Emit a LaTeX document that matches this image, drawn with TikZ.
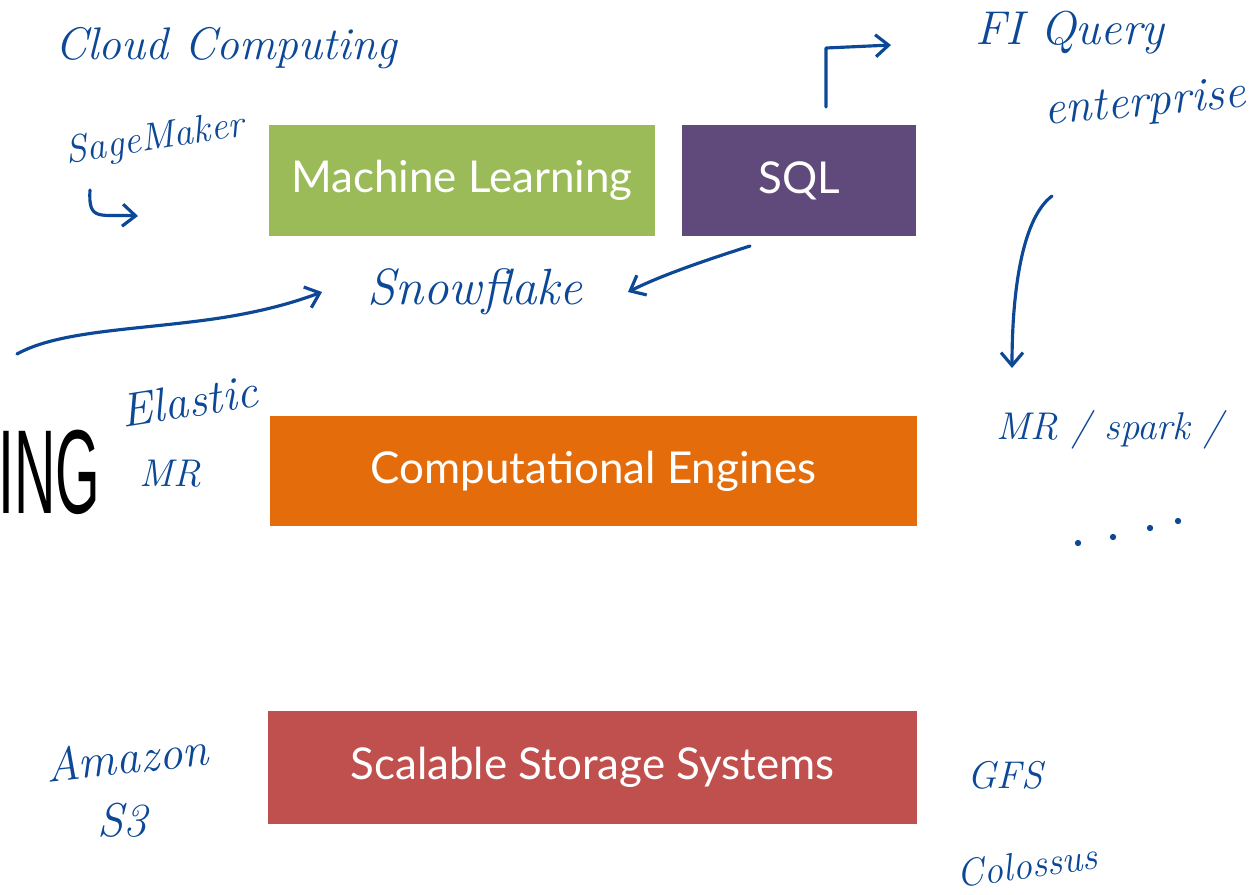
\documentclass[tikz,border=0pt]{standalone}
\usepackage{fontspec}
\usepackage{tikz}
\usetikzlibrary{arrows.meta,positioning}
\newfontfamily\boxfont{Lato}
\newfontfamily\titlefont[FakeStretch=0.48]{Liberation Sans}
\definecolor{mlgreen}{RGB}{155,187,89}
\definecolor{sqlpurple}{RGB}{96,74,123}
\definecolor{engorange}{RGB}{228,108,10}
\definecolor{storred}{RGB}{192,80,77}
\definecolor{ink}{RGB}{12,72,150}

\begin{document}
\begin{tikzpicture}[x=0.02cm,y=-0.02cm,
    layer/.style={inner sep=0pt,text=white,font=\boxfont\fontsize{25}{28}\selectfont},
    hand/.style={text=ink,inner sep=0pt,font=\itshape\fontsize{22}{24}\selectfont},
    handlg/.style={hand,font=\itshape\fontsize{27}{29}\selectfont},
    pen/.style={draw=ink,line width=1.8pt,line cap=round,line join=round},
    penarrow/.style={pen,-{Straight Barb[length=2.6mm,width=4.4mm,line width=1.8pt]}}]
    \useasboundingbox (0,0) rectangle (1253,894);
    % slide layers
    \node[layer,fill=mlgreen,minimum width=7.72cm,minimum height=2.22cm] (ml) at (462,180.5){Machine Learning};
    \node[layer,fill=sqlpurple,minimum width=4.68cm,minimum height=2.22cm] (sql) at (799,180.5){SQL};
    \node[layer,fill=engorange,minimum width=12.94cm,minimum height=2.2cm] (eng) at (593.5,471){Computational Engines};
    \node[layer,fill=storred,minimum width=12.98cm,minimum height=2.26cm] (stor) at (592.5,767.5){Scalable Storage Systems};
    \node[inner sep=0pt,font=\titlefont\fontsize{68}{68}\selectfont,anchor=west] (title) at (-2,472){ING};
    % handwritten notes
    \node[handlg,font=\itshape\fontsize{26}{28}\selectfont] (cloud) at (226,48){Cloud Computing};
    \node[hand,rotate=9] (sage) at (155,140){SageMaker};
    \node[handlg] (fiq) at (1070,33){FI Query};
    \node[handlg,rotate=5] (ent) at (1145,105){enterprise};
    \node[handlg,font=\itshape\fontsize{29}{31}\selectfont,inner xsep=0.9cm] (snow) at (475,292){Snowflake};
    \node[handlg,rotate=9] (elastic) at (189,401){Elastic};
    \node[hand] (emr) at (170,474){MR};
    \node[hand] (spark) at (1110,430){MR / spark /};
    \node[handlg,rotate=6] (amazon) at (127,757){Amazon};
    \node[handlg] (s3) at (122,820){S3};
    \node[hand] (gfs) at (1005,775){GFS};
    \node[hand,rotate=8] (colossus) at (1027,865){Colossus};
    \coordinate (hook) at (90,190);
    \coordinate (sqlup) at (826,107);
    \coordinate (sqlbelow) at (750,246);
    \coordinate (leftend) at (17,354);
    \coordinate (topright) at (1052,196);
    % pen strokes
    \draw[penarrow] (hook) .. controls (88,222) and (100,214) .. (138,216);
    \draw[penarrow] (sqlup) -- (826,48) -- (891,45);
    \draw[penarrow] (leftend) .. controls (60,330) and (140,330) .. (220,318) .. controls (265,311) and (295,302) .. (snow.west);
    \draw[penarrow] (sqlbelow) .. controls (700,262) and (660,276) .. (snow.east);
    \draw[penarrow] (topright) .. controls (1020,220) and (1012,300) .. (1012,368);
    \foreach \dx/\dy in {1078/543,1113/537,1150/528,1178/521}
      \fill[ink] (\dx,\dy) circle (1.8pt);
\end{tikzpicture}
\end{document}
